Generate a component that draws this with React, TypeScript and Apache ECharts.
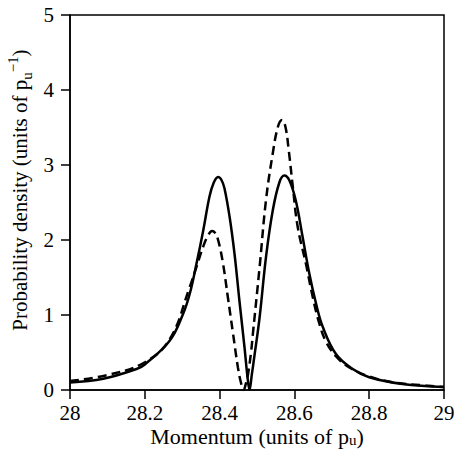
import React, { useEffect, useRef } from "react";
import * as echarts from "echarts";

const xTicks = [28, 28.2, 28.4, 28.6, 28.8, 29];
const yTicks = [0, 1, 2, 3, 4, 5];

// solid curve: [momentum, density]
const solidX = [28.0, 28.089, 28.178, 28.2, 28.267, 28.302, 28.32, 28.338, 28.356, 28.373, 28.384, 28.396, 28.405, 28.413, 28.427, 28.44, 28.453, 28.467, 28.474, 28.48, 28.486, 28.493, 28.507, 28.524, 28.542, 28.56, 28.573, 28.587, 28.604, 28.622, 28.64, 28.658, 28.676, 28.711, 28.756, 28.8, 28.889, 29.0];
const solidY = [0.1, 0.15, 0.28, 0.34, 0.66, 1.01, 1.28, 1.68, 2.12, 2.58, 2.76, 2.84, 2.8, 2.69, 2.3, 1.81, 1.19, 0.55, 0.2, 0.0, 0.2, 0.45, 0.97, 1.77, 2.39, 2.77, 2.86, 2.79, 2.52, 2.04, 1.55, 1.15, 0.84, 0.48, 0.28, 0.17, 0.08, 0.04];

// dashed curve
const dashX = [28.0, 28.1, 28.2, 28.267, 28.32, 28.338, 28.356, 28.369, 28.38, 28.387, 28.396, 28.409, 28.422, 28.436, 28.449, 28.457, 28.464, 28.471, 28.476, 28.484, 28.489, 28.507, 28.524, 28.542, 28.556, 28.567, 28.576, 28.585, 28.596, 28.609, 28.631, 28.649, 28.667, 28.684, 28.711, 28.747, 28.8, 28.867, 28.95, 29.0];
const dashY = [0.12, 0.2, 0.37, 0.68, 1.37, 1.64, 1.91, 2.06, 2.12, 2.1, 2.0, 1.69, 1.24, 0.75, 0.3, 0.1, 0.0, 0.1, 0.21, 0.5, 0.75, 1.64, 2.53, 3.15, 3.51, 3.6, 3.51, 3.19, 2.7, 2.17, 1.68, 1.24, 0.88, 0.65, 0.45, 0.3, 0.18, 0.1, 0.06, 0.04];

const font = "'Liberation Serif', 'Times New Roman', serif";

function richFor(size: number, lh: number, shift: number) {
  return {
    a: { fontSize: size, fontFamily: font, color: "#000", lineHeight: lh },
    sub: { fontSize: 15, fontFamily: font, color: "#000", lineHeight: 14, padding: [shift, 0, 0, 0] },
    sup: { fontSize: 15, fontFamily: font, color: "#000", lineHeight: 14, padding: [0, 0, shift, 0] },
  };
}

export default function App() {
  const ref = useRef<HTMLDivElement>(null);
  useEffect(() => {
    if (!ref.current) return;
    const chart = echarts.init(ref.current, null, { renderer: "svg" });
    const fmt = (v: number) => String(+v.toFixed(1));
    chart.setOption({
      animation: false,
      backgroundColor: "#fff",
      grid: {
        left: 70, right: 10, top: 15, bottom: 59,
        containLabel: false, outerBoundsMode: "none",
        show: true, borderColor: "#000", borderWidth: 1.5, backgroundColor: "transparent",
      },
      xAxis: {
        type: "value",
        min: xTicks[0],
        max: xTicks[xTicks.length - 1],
        interval: 0.2,
        name: "{a|Momentum (units of p}{sub|u}{a|)}",
        nameLocation: "middle",
        nameGap: 35,
        nameMoveOverlap: false,
        nameTextStyle: { rich: richFor(22, 22, 8) },
        axisLine: { show: true, onZero: false, lineStyle: { color: "#000", width: 1.5 } },
        axisTick: { show: true, inside: false, length: 9, lineStyle: { color: "#000", width: 1.5 } },
        axisLabel: { fontSize: 21, fontFamily: font, color: "#000", margin: 12, formatter: fmt },
        splitLine: { show: false },
      },
      yAxis: {
        type: "value",
        min: yTicks[0],
        max: yTicks[yTicks.length - 1],
        interval: 1,
        name: "{a|Probability density (units of p}{sub|u}{sup|−1}{a|)}",
        nameLocation: "middle",
        nameGap: 38,
        nameMoveOverlap: false,
        nameTextStyle: { rich: richFor(21, 24, 14), padding: [0, 0, 0, 25] },
        axisLine: { show: true, lineStyle: { color: "#000", width: 1.5 } },
        axisTick: { show: true, inside: false, length: 9, lineStyle: { color: "#000", width: 1.5 } },
        axisLabel: { fontSize: 21, fontFamily: font, color: "#000", margin: 16, formatter: fmt },
        splitLine: { show: false },
      },
      series: [
        {
          type: "line",
          data: solidX.map((x, i) => [x, solidY[i]]),
          smooth: 0.4,
          showSymbol: false,
          lineStyle: { color: "#000", width: 2.5 },
        },
        {
          type: "line",
          data: dashX.map((x, i) => [x, dashY[i]]),
          smooth: 0.4,
          showSymbol: false,
          lineStyle: { color: "#000", width: 2.5, type: [9, 5] },
        },
      ],
    });
    return () => chart.dispose();
  }, []);
  return <div ref={ref} style={{ position: "fixed", left: 0, top: 0, width: 454, height: 449 }} />;
}
